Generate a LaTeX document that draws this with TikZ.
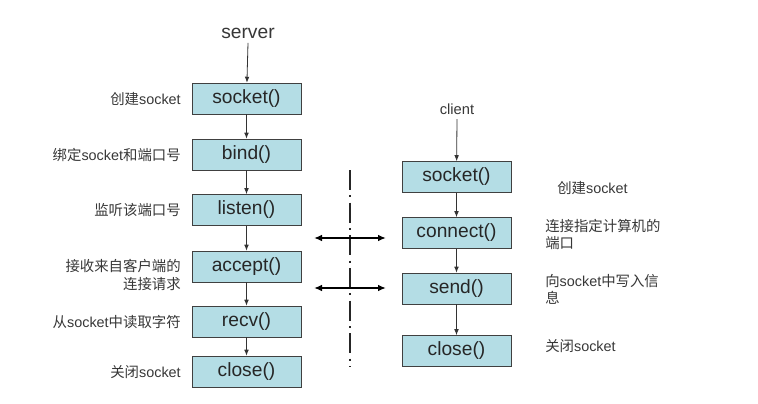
\documentclass[tikz,border=0pt]{standalone}
\usepackage{fontspec}
\setmainfont{Liberation Sans}
\newfontfamily\cjk{Noto Sans CJK SC}
\usepackage{tikz}
\usetikzlibrary{arrows.meta,calc,positioning}
\definecolor{boxblue}{RGB}{180,221,229}
\definecolor{txtgray}{RGB}{55,55,55}
\newcommand{\zh}[1]{{\cjk #1}}
\tikzset{
  func/.style={draw=black!75,fill=boxblue,minimum width=81.75pt,minimum height=23.25pt,
    inner sep=0pt,font=\fontsize{14.4}{16}\selectfont,text=black!85},
  note/.style={font=\fontsize{10.8}{13}\selectfont,text=txtgray,inner sep=0pt},
  flow/.style={draw=black!80,line width=0.6pt,-{Latex[length=4.5pt,width=3.5pt]}},
  link/.style={draw=black,line width=1.3pt,{Latex[length=6pt,width=5pt]}-{Latex[length=6pt,width=5pt]}}
}
\begin{document}
\begin{tikzpicture}[x=0.75pt,y=-0.75pt]
        \useasboundingbox (0,0) rectangle (758,404);
        % server side
        \node[font=\fontsize{14.4}{16}\selectfont,text=txtgray] (server) at (248,33) {server};
        \node[func] (ssocket) at (246.5,98.5) {socket()};
        \node[func] (sbind)   at (246.5,154.5) {bind()};
        \node[func] (slisten) at (246.5,210) {listen()};
        \node[func] (saccept) at (246.5,266.5) {accept()};
        \node[func] (srecv)   at (246.5,321.5) {recv()};
        \node[func] (sclose)  at (246.5,371.5) {close()};
        \draw[flow] (server.south) -- (ssocket);
        \draw[flow] (ssocket) -- (sbind);
        \draw[flow] (sbind) -- (slisten);
        \draw[flow] (slisten) -- (saccept);
        \draw[flow] (saccept) -- (srecv);
        \draw[flow] (srecv) -- (sclose);
        % server notes
        \node[note,anchor=east] (n1) at (181,99) {\zh{创建}socket};
        \node[note,anchor=east] (n2) at (181,155) {\zh{绑定}socket\zh{和端口号}};
        \node[note,anchor=east] (n3) at (181,210) {\zh{监听该端口号}};
        \node[note,anchor=east,align=right] (n4) at (181,275) {\zh{接收来自客户端的}\\\zh{连接请求}};
        \node[note,anchor=east] (n5) at (181,322) {\zh{从}socket\zh{中读取字符}};
        \node[note,anchor=east] (n6) at (181,372) {\zh{关闭}socket};
        % client side
        \node[font=\fontsize{11}{13}\selectfont,text=txtgray] (client) at (457,109) {client};
        \node[func] (csocket)  at (456.5,177) {socket()};
        \node[func] (cconnect) at (456.5,233) {connect()};
        \node[func] (csend)    at (456.5,288.5) {send()};
        \node[func] (cclose)   at (456.5,351) {close()};
        \draw[flow] (client.south) -- (csocket);
        \draw[flow] (csocket) -- (cconnect);
        \draw[flow] (cconnect) -- (csend);
        \draw[flow] (csend) -- (cclose);
        % client notes
        \node[note,anchor=west] (m1) at (557,188) {\zh{创建}socket};
        \node[note,anchor=north west,align=left] (m2) at (545,219) {\zh{连接指定计算机的}\\\zh{端口}};
        \node[note,anchor=north west,align=left] (m3) at (545,274) {\zh{向}socket\zh{中写入信}\\\zh{息}};
        \node[note,anchor=west] (m4) at (545,346) {\zh{关闭}socket};
        % divider and links
        \coordinate (top) at (350,170);
        \coordinate (bot) at (350,367);
        \draw[black!85,line width=1.5pt,dash pattern=on 15pt off 4pt on 1.5pt off 4pt] (top) -- (bot);
        \coordinate (l1a) at (314,238);
        \coordinate (l1b) at (386,238);
        \coordinate (l2a) at (314,288);
        \coordinate (l2b) at (386,288);
        \draw[link] (l1a) -- (l1b);
        \draw[link] (l2a) -- (l2b);
      \end{tikzpicture}
\end{document}
